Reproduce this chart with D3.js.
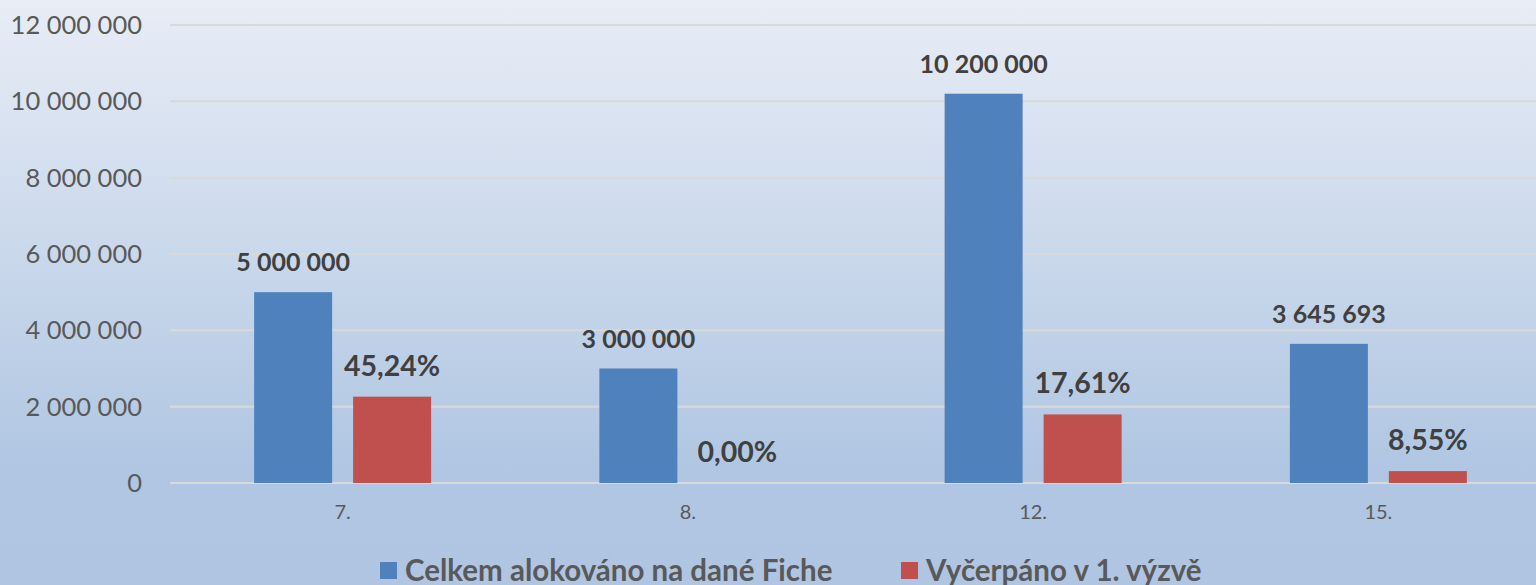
<!DOCTYPE html>
<html><head><meta charset="utf-8">
<script src="https://cdn.jsdelivr.net/npm/d3@7"></script>
<style>html,body{margin:0;padding:0;overflow:hidden;background:#b0c5e1}</style>
</head><body>
<svg id="c" width="1536" height="585"></svg>
<script>
const categories = ["7.", "8.", "12.", "15."];
const seriesNames = ["Celkem alokováno na dané Fiche", "Vyčerpáno v 1. výzvě"];
const allocated = [5000000, 3000000, 10200000, 3645693];
const spent = [2262000, 0, 1796220, 311700];
const spentLabels = ["45,24%", "0,00%", "17,61%", "8,55%"];
const yTicks = [0, 2000000, 4000000, 6000000, 8000000, 10000000, 12000000];
const colors = ["#4f81bd", "#c0504d"];

const W = 1536, H = 585;
const font = "Lato, 'Open Sans', sans-serif";
const svg = d3.select("#c");
const loc = d3.formatLocale({decimal: ",", thousands: " ", grouping: [3], currency: ["", ""]});
const fmt = loc.format(",");

const defs = svg.append("defs");
const g = defs.append("linearGradient").attr("id", "bg").attr("x1", 0).attr("y1", 0).attr("x2", 0).attr("y2", 1);
g.append("stop").attr("offset", "0").attr("stop-color", "#e8edf6");
g.append("stop").attr("offset", "0.8").attr("stop-color", "#b0c6e2");
g.append("stop").attr("offset", "1").attr("stop-color", "#afc5e1");
svg.append("rect").attr("width", W).attr("height", H).attr("fill", "url(#bg)");

const y = d3.scaleLinear().domain([0, 12000000]).range([483, 25]);
const x0 = d3.scaleBand().domain(categories).range([169, 1550]).padding(0);
const groupW = 177;
const x1 = d3.scaleBand().domain([0, 1]).range([0, groupW]).paddingInner(0.212);
const gx = c => x0(c) + (x0.bandwidth() - groupW) / 2 + 1;

// gridlines
svg.append("g").selectAll("line").data(yTicks).join("line")
  .attr("x1", 170).attr("x2", W)
  .attr("y1", d => y(d)).attr("y2", d => y(d))
  .attr("stroke", "#d9d9d9").attr("stroke-width", 2);

// y tick labels
svg.append("g").selectAll("text").data(yTicks).join("text")
  .attr("x", 142).attr("y", d => y(d)).attr("dy", "0.35em")
  .attr("text-anchor", "end").attr("font-family", font).attr("font-size", 25.5)
  .attr("fill", "#595959").text(d => fmt(d));

// category labels
svg.append("g").selectAll("text").data(categories).join("text")
  .attr("x", c => gx(c) + groupW / 2).attr("y", 519)
  .attr("text-anchor", "middle").attr("font-family", font).attr("font-size", 20)
  .attr("fill", "#595959").text(c => c);

const data = categories.map((c, i) => ({c, vals: [allocated[i], spent[i]], labels: [fmt(allocated[i]), spentLabels[i]]}));

const grp = svg.append("g").selectAll("g").data(data).join("g")
  .attr("transform", d => `translate(${gx(d.c)},0)`);

grp.selectAll("rect").data(d => d.vals.map((v, s) => ({v, s}))).join("rect")
  .attr("x", d => x1(d.s)).attr("width", x1.bandwidth())
  .attr("y", d => y(d.v)).attr("height", d => y(0) - y(d.v))
  .attr("fill", d => colors[d.s]);

grp.selectAll("text").data(d => d.vals.map((v, s) => ({v, s, t: d.labels[s]}))).join("text")
  .attr("x", d => x1(d.s) + x1.bandwidth() / 2)
  .attr("y", d => y(d.v) - 21)
  .attr("text-anchor", "middle").attr("font-family", font).attr("font-weight", "bold")
  .attr("font-size", d => d.s === 0 ? 25 : 28.5)
  .attr("fill", "#404040").text(d => d.t);

// legend
const legX = [380, 901];
const leg = svg.append("g").selectAll("g").data(seriesNames).join("g")
  .attr("transform", (d, i) => `translate(${legX[i]},562)`);
leg.append("rect").attr("width", 17).attr("height", 17).attr("fill", (d, i) => colors[i]);
leg.append("text").attr("x", 25).attr("y", 18.5)
  .attr("font-family", font).attr("font-weight", "bold").attr("font-size", 29.5)
  .attr("fill", "#595959").text(d => d);
</script>
</body></html>
